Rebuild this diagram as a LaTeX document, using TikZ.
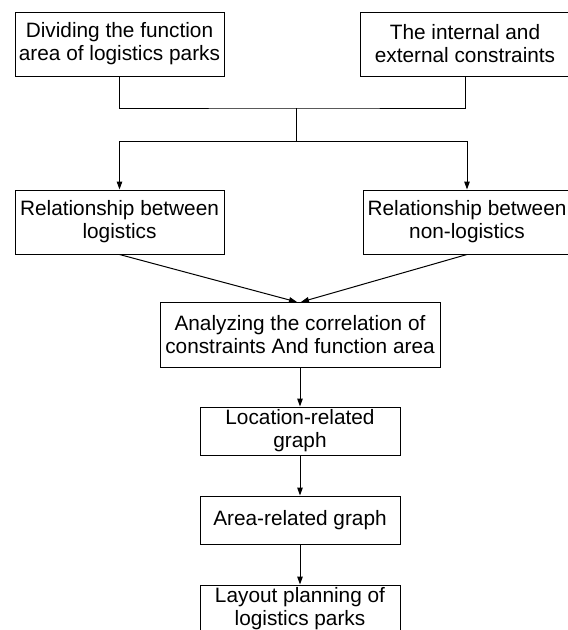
\documentclass[tikz,border=0pt]{standalone}
\usepackage{fontspec}
\setmainfont{Liberation Sans}
\usetikzlibrary{positioning, arrows.meta}

\tikzset{
  stage/.style={draw, line width=1pt, align=center, inner sep=0pt,
    font=\fontsize{20.8}{23}\selectfont},
  wide/.style={stage, minimum width=209pt, minimum height=64pt},
  flow/.style={line width=1pt, -{Triangle[length=8pt,width=5.5pt]}}
}

\begin{document}
\begin{tikzpicture}[x=1pt,y=-1pt,node distance=89pt,on grid]
			\useasboundingbox (0,0) rectangle (568,630);
			% top: the two inputs
			\node[wide] (dividing) at (119.5,44)	{Dividing the function\\area of logistics parks};
			\node[wide,minimum width=210pt] (constraints) at (465,44)	{The internal and\\external constraints};
			% second row
			\node[wide] (logistics) at (119.5,222)	{Relationship between\\logistics};
			\node[wide,minimum width=208pt] (nonlogistics) at (467,222)	{Relationship between\\non-logistics};
			% main chain
			\node[stage,minimum width=280pt,minimum height=65pt] (analyzing) at (300,334.5)
				{Analyzing the correlation of\\constraints And function area};
			\node[stage,minimum width=200pt,minimum height=48pt] (location) [below=96.5pt of analyzing]	{Location-related\\graph};
			\node[stage,minimum width=200pt,minimum height=48pt] (arearel) [below=of location]	{Area-related graph};
			\node[stage,minimum width=200pt,minimum height=48pt] (layout) [below=of arearel]	{Layout planning of\\logistics parks};
			\coordinate (join) at (296,108);
			\coordinate (split) at (296,141);
			\coordinate (tipL) at (297,302);
			\coordinate (tipR) at (301,302);
			\draw[line width=1pt] (dividing.south) |- (join) -| (constraints.south);
			\draw[line width=1pt] (join) -- (split);
			\draw[flow] (split) -| (logistics.north);
			\draw[flow] (split) -| (nonlogistics.north);
			\draw[flow] (logistics.south) -- (tipL);
			\draw[flow] (nonlogistics.south) -- (tipR);
			\draw[flow] (analyzing) -- (location);
			\draw[flow] (location) -- (arearel);
			\draw[flow] (arearel) -- (layout);
\end{tikzpicture}
\end{document}
